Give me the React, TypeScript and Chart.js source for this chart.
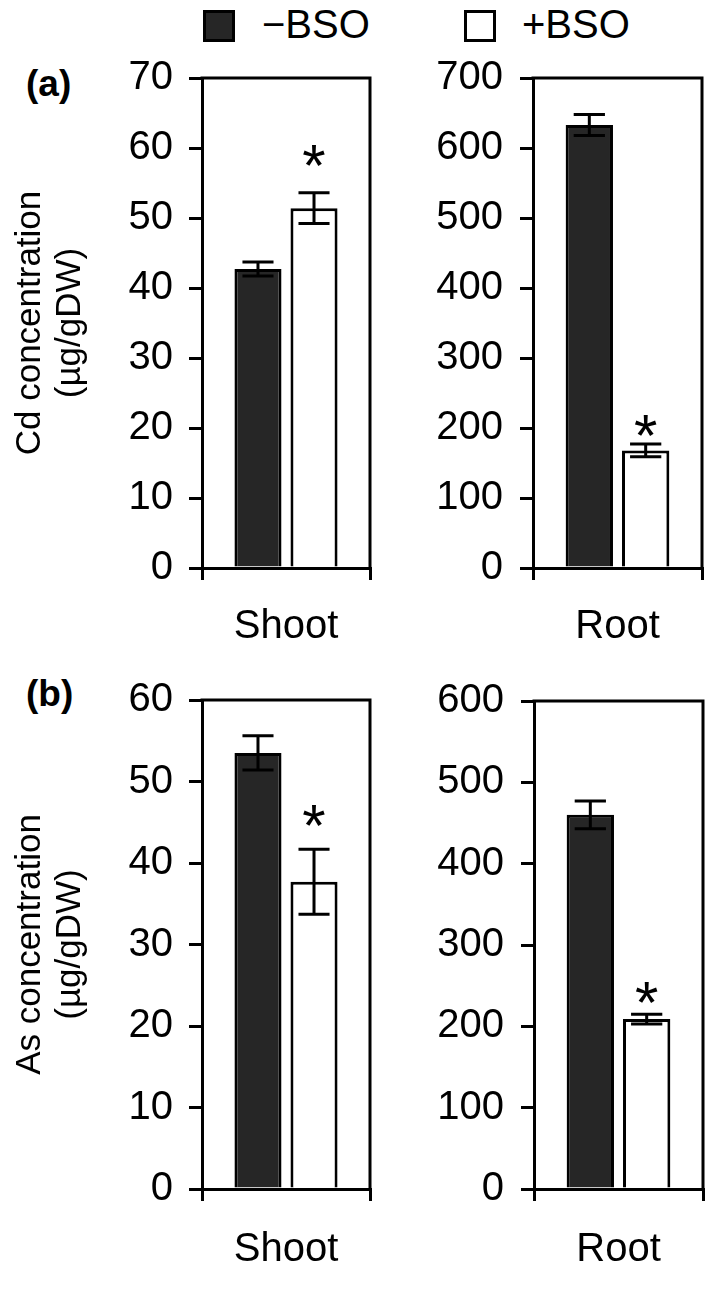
import React, { useEffect, useRef } from 'react';
import { Chart, registerables } from 'chart.js';

Chart.register(...registerables);

// ---- data ----
const SERIES_LABELS = ['−BSO', '+BSO'];
const SERIES_COLORS = ['#262626', '#ffffff'];
const PANEL_LETTERS = ['(a)', '(b)'];
const CATEGORIES = ['Shoot', 'Root'];

const CD_TITLE = ['Cd concentration', '(µg/gDW)'];
const AS_TITLE = ['As concentration', '(µg/gDW)'];

const CD_SHOOT = [42.7, 51.4];
const CD_SHOOT_ERR = [1.0, 2.2];
const CD_SHOOT_STAR: (number | null)[] = [null, 59];
const CD_SHOOT_MAX = 70;
const CD_SHOOT_STEP = 10;

const CD_ROOT = [633, 168];
const CD_ROOT_ERR = [15, 9];
const CD_ROOT_STAR: (number | null)[] = [null, 204];
const CD_ROOT_MAX = 700;
const CD_ROOT_STEP = 100;

const AS_SHOOT = [53.5, 37.7];
const AS_SHOOT_ERR = [2.1, 4.0];
const AS_SHOOT_STAR: (number | null)[] = [null, 45.8];
const AS_SHOOT_MAX = 60;
const AS_SHOOT_STEP = 10;

const AS_ROOT = [460, 209];
const AS_ROOT_ERR = [17, 6];
const AS_ROOT_STAR: (number | null)[] = [null, 242];
const AS_ROOT_MAX = 600;
const AS_ROOT_STEP = 100;

// ---- styling ----
const FONT = '"Liberation Sans", Arial, Helvetica, sans-serif';
const BLACK = '#000000';

const framePlugin = {
  id: 'frame',
  afterDraw(chart: any) {
    const { ctx, chartArea } = chart;
    const { left, top, right, bottom } = chartArea;
    ctx.save();
    ctx.strokeStyle = BLACK;
    ctx.lineWidth = 3;
    ctx.lineCap = 'square';
    ctx.beginPath();
    ctx.moveTo(left, top);
    ctx.lineTo(right, top);
    ctx.lineTo(right, bottom);
    ctx.stroke();
    ctx.restore();
  },
};

function makeMarksPlugin(errors: number[], stars: (number | null)[]) {
  return {
    id: 'marks',
    afterDatasetsDraw(chart: any) {
      const { ctx } = chart;
      const yScale = chart.scales.y;
      ctx.save();
      ctx.strokeStyle = BLACK;
      ctx.lineWidth = 3;
      ctx.lineCap = 'butt';
      errors.forEach((e, i) => {
        const meta = chart.getDatasetMeta(i);
        const bar: any = meta.data[0];
        if (!bar) return;
        const v = chart.data.datasets[i].data[0] as number;
        const x = bar.x;
        const half = (bar.width * 0.66) / 2;
        const yt = yScale.getPixelForValue(v + e);
        const yb = yScale.getPixelForValue(v - e);
        ctx.beginPath();
        ctx.moveTo(x, yt);
        ctx.lineTo(x, yb);
        ctx.moveTo(x - half, yt);
        ctx.lineTo(x + half, yt);
        ctx.moveTo(x - half, yb);
        ctx.lineTo(x + half, yb);
        ctx.stroke();
      });
      ctx.fillStyle = BLACK;
      ctx.font = `60px ${FONT}`;
      ctx.textAlign = 'center';
      ctx.textBaseline = 'alphabetic';
      stars.forEach((s, i) => {
        if (s === null || s === undefined) return;
        const bar: any = chart.getDatasetMeta(i).data[0];
        if (!bar) return;
        const yc = yScale.getPixelForValue(s);
        const m = ctx.measureText('*');
        const asc = m.actualBoundingBoxAscent;
        const desc = m.actualBoundingBoxDescent;
        ctx.fillText('*', bar.x, yc + (asc - desc) / 2);
      });
      ctx.restore();
    },
  };
}

type PanelProps = {
  left: number;
  top: number;
  width: number;
  height: number;
  padTop: number;
  padRight: number;
  yWidth: number;
  xHeight: number;
  xLabelPad: number;
  yLabelPad: number;
  category: string;
  values: number[];
  errors: number[];
  stars: (number | null)[];
  max: number;
  step: number;
  title?: string[];
};

function Panel(p: PanelProps) {
  const ref = useRef<HTMLCanvasElement>(null);
  useEffect(() => {
    if (!ref.current) return;
    const chart = new Chart(ref.current, {
      type: 'bar',
      data: {
        labels: [p.category],
        datasets: SERIES_LABELS.map((label, i) => ({
          label,
          data: [p.values[i]],
          backgroundColor: SERIES_COLORS[i],
          borderColor: BLACK,
          borderWidth: 3,
          categoryPercentage: 0.667,
          barPercentage: 0.84,
        })),
      },
      options: {
        animation: false,
        responsive: false,
        devicePixelRatio: 1,
        layout: { padding: { top: p.padTop, right: p.padRight, left: 0, bottom: 0 } },
        plugins: {
          legend: { display: false },
          tooltip: { enabled: false },
        },
        scales: {
          x: {
            offset: true,
            grid: {
              display: true,
              drawOnChartArea: false,
              offset: true,
              tickLength: 12,
              lineWidth: 3,
              color: BLACK,
            },
            border: { display: true, color: BLACK, width: 3 },
            ticks: {
              color: BLACK,
              font: { family: FONT, size: 40 },
              padding: p.xLabelPad,
              maxRotation: 0,
              minRotation: 0,
            },
            afterFit: (s: any) => {
              s.height = p.xHeight;
            },
          },
          y: {
            min: 0,
            max: p.max,
            ticks: {
              stepSize: p.step,
              color: BLACK,
              font: { family: FONT, size: 40 },
              padding: p.yLabelPad,
            },
            grid: {
              display: true,
              drawOnChartArea: false,
              tickLength: 13,
              lineWidth: 3,
              color: BLACK,
            },
            border: { display: true, color: BLACK, width: 3 },
            title: p.title
              ? {
                  display: true,
                  text: p.title,
                  color: BLACK,
                  font: { family: FONT, size: 35, lineHeight: 40 / 35 },
                  padding: { top: 10, bottom: 0 },
                }
              : { display: false },
            afterFit: (s: any) => {
              s.width = p.yWidth;
            },
          },
        },
      } as any,
      plugins: [framePlugin, makeMarksPlugin(p.errors, p.stars)],
    });
    return () => chart.destroy();
  }, []);
  return (
    <canvas
      ref={ref}
      width={p.width}
      height={p.height}
      style={{ position: 'absolute', left: p.left, top: p.top, width: p.width, height: p.height }}
    />
  );
}

function Text(props: { left: number; baseline: number; size: number; bold?: boolean; children: React.ReactNode }) {
  const { left, baseline, size, bold } = props;
  return (
    <div
      style={{
        position: 'absolute',
        left,
        top: baseline - 0.8465 * size,
        fontFamily: FONT,
        fontSize: size,
        lineHeight: `${size}px`,
        fontWeight: bold ? 'bold' : 'normal',
        color: BLACK,
        whiteSpace: 'nowrap',
      }}
    >
      {props.children}
    </div>
  );
}

function Swatch(props: { left: number; top: number; color: string }) {
  return (
    <div
      style={{
        position: 'absolute',
        left: props.left,
        top: props.top,
        width: 32,
        height: 32,
        boxSizing: 'border-box',
        border: '3px solid #000',
        background: props.color,
      }}
    />
  );
}

export default function App() {
  return (
    <div style={{ position: 'absolute', left: 0, top: 0, width: 709, height: 1313, background: '#fff', overflow: 'hidden' }}>
      <Swatch left={203} top={10} color={SERIES_COLORS[0]} />
      <Text left={262} baseline={37.5} size={40}>{SERIES_LABELS[0]}</Text>
      <Swatch left={464} top={10} color={SERIES_COLORS[1]} />
      <Text left={522} baseline={37.5} size={40}>{SERIES_LABELS[1]}</Text>

      <Text left={26} baseline={96} size={37} bold>{PANEL_LETTERS[0]}</Text>
      <Text left={26} baseline={706} size={37} bold>{PANEL_LETTERS[1]}</Text>

      <Panel
        left={0} top={0} width={380} height={660}
        padTop={78} padRight={10} yWidth={202} xHeight={92} xLabelPad={23} yLabelPad={16}
        category={CATEGORIES[0]} values={CD_SHOOT} errors={CD_SHOOT_ERR} stars={CD_SHOOT_STAR}
        max={CD_SHOOT_MAX} step={CD_SHOOT_STEP} title={CD_TITLE}
      />
      <Panel
        left={380} top={0} width={329} height={660}
        padTop={78} padRight={7} yWidth={153} xHeight={92} xLabelPad={23} yLabelPad={17}
        category={CATEGORIES[1]} values={CD_ROOT} errors={CD_ROOT_ERR} stars={CD_ROOT_STAR}
        max={CD_ROOT_MAX} step={CD_ROOT_STEP}
      />
      <Panel
        left={0} top={660} width={380} height={653}
        padTop={30} padRight={10} yWidth={202} xHeight={124} xLabelPad={25} yLabelPad={16}
        category={CATEGORIES[0]} values={AS_SHOOT} errors={AS_SHOOT_ERR} stars={AS_SHOOT_STAR}
        max={AS_SHOOT_MAX} step={AS_SHOOT_STEP} title={AS_TITLE}
      />
      <Panel
        left={380} top={660} width={329} height={653}
        padTop={30} padRight={6} yWidth={154} xHeight={124} xLabelPad={25} yLabelPad={17}
        category={CATEGORIES[1]} values={AS_ROOT} errors={AS_ROOT_ERR} stars={AS_ROOT_STAR}
        max={AS_ROOT_MAX} step={AS_ROOT_STEP}
      />
    </div>
  );
}
